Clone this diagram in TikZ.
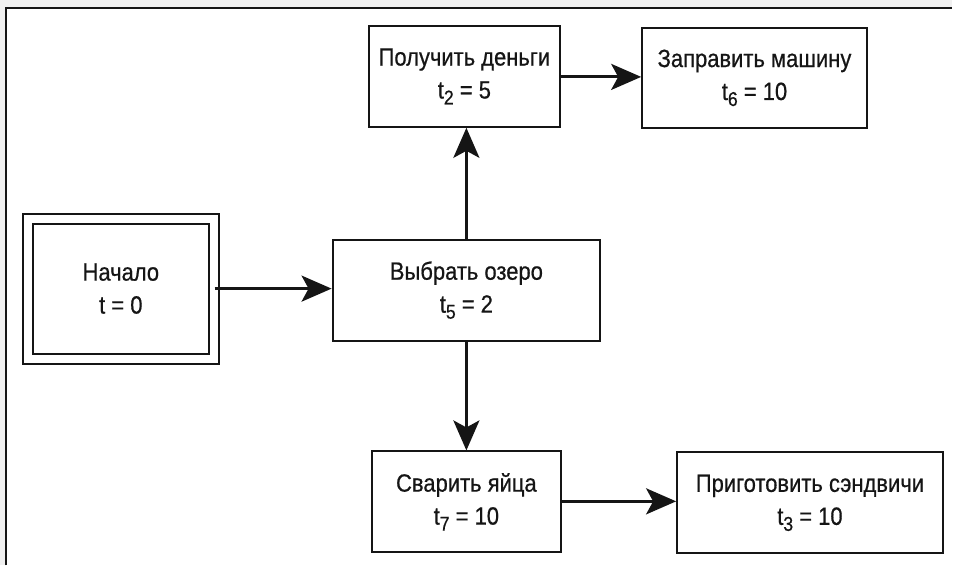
\documentclass[tikz,border=0pt]{standalone}
\usepackage{fontspec}
\setmainfont{Liberation Sans}[FakeStretch=0.88, FakeBold=0.6]
\usetikzlibrary{arrows.meta}
\definecolor{pagegray}{HTML}{F0F0F0}
\definecolor{ink}{HTML}{151515}
% time label with a lowered index, e.g. t_2
\newcommand\tidx[1]{t\raisebox{-6pt}{\fontsize{20}{20}\selectfont #1}}
\begin{document}
\begin{tikzpicture}[x=1pt,y=-1pt,
  every node/.style={font=\fontsize{25}{33}\selectfont, text=ink},
  task/.style={draw=ink, line width=2pt, rectangle, align=center,
    inner sep=0pt, minimum height=101pt},
  startbox/.style={task, double, double distance=8pt, minimum height=140pt},
  flow/.style={draw=ink, line width=3pt,
    -{Stealth[length=30pt,width=26pt,inset=7pt]}}]
  % sheet with its frame
  \fill[pagegray] (0,0) rectangle (953,566);
  \fill[white] (6,8) rectangle (953,566);
  \draw[ink, line width=2.5pt] (6,566) -- (6,8) -- (953,8);
  \useasboundingbox (0,0) rectangle (953,566);

  % activities
  \node[startbox, minimum width=186pt] (start) at (121,289) {Начало\\t = 0};
  \node[task, minimum width=268pt] (lake) at (467,290.5) {Выбрать озеро\\\tidx{5} = 2};
  \node[task, minimum width=192pt] (money) at (465,76.5) {Получить деньги\\\tidx{2} = 5};
  \node[task, minimum width=225pt, minimum height=100pt] (fuel) at (755.5,78) {Заправить машину\\\tidx{6} = 10};
  \node[task, minimum width=190pt] (eggs) at (467,502.5) {Сварить яйца\\\tidx{7} = 10};
  \node[task, minimum width=266pt] (sand) at (811,503.5) {Приготовить сэндвичи\\\tidx{3} = 10};

  % dependencies
  \draw[flow] (start.east) -- (start.east -| lake.west);
  \draw[flow] (lake.north) -- (lake.north |- money.south);
  \draw[flow] (lake.south) -- (lake.south |- eggs.north);
  \draw[flow] (money.east |- 0,77) -- (fuel.west |- 0,77);
  \draw[flow] (eggs.east |- 0,502) -- (sand.west |- 0,502);
\end{tikzpicture}
\end{document}
